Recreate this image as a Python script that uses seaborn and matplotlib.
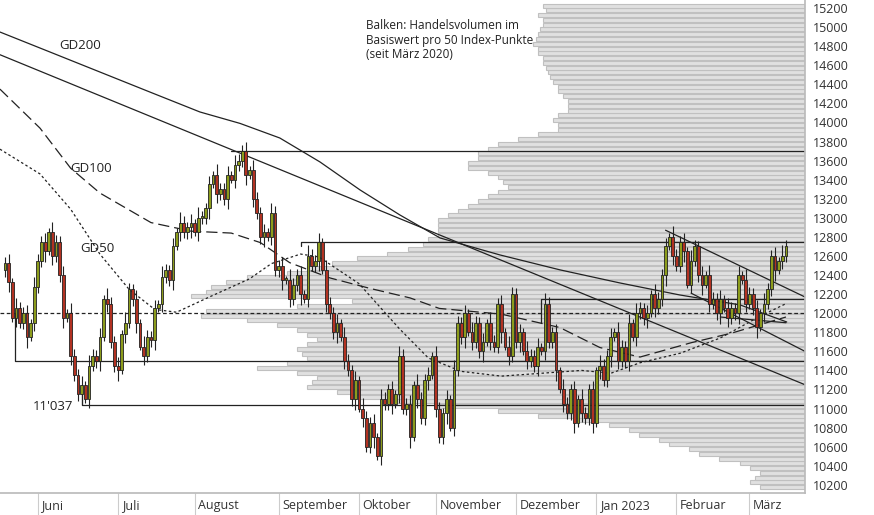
import numpy as np
import pandas as pd
import matplotlib
matplotlib.use("Agg")
import matplotlib.pyplot as plt
import matplotlib.transforms as mtrans
import seaborn as sns

sns.set_theme(style="white")
plt.rcParams['font.family'] = ['Open Sans', 'DejaVu Sans']

closes = [12530,12330,11950,12050,11900,12000,11750,11900,12270,
 12550,12750,12650,12850,12600,12750,12400,11950,12000,11550,11350,11150,11250,11100,11450,11550,11500,11750,12150,12100,11700,11450,11400,
 11780,11900,12250,12150,11900,11650,11550,11750,11720,12050,12100,12380,12450,12350,12700,12850,12950,12850,12900,12950,12850,
 13000,13000,13100,13350,13450,13250,13300,13200,13450,13400,13550,13600,13700,13450,13500,13200,13050,12800,12850,12800,13050,12450,
 12500,12350,12350,12150,12300,12400,12200,12150,12600,12500,12550,12750,12450,12100,12000,11800,11900,11750,11500,11400,11100,
 11300,11000,10900,10600,10850,10700,10500,11100,11050,11200,11050,11150,11550,11000,11050,10700,11250,11100,10900,11300,11350,11550,
 11000,10700,10950,11100,10800,11400,11900,11750,12000,11800,11700,11900,11600,11700,11900,11700,11650,12100,11800,11650,11550,
 12200,11700,11800,11600,11500,11550,11450,11650,11600,12100,11700,11800,11400,11200,11050,10950,11200,10850,11100,10950,10900,
 11200,10850,11400,11450,11300,11550,11750,11800,11500,11650,11500,11900,11750,12000,12050,11950,12000,12200,12050,12150,12400,
 12700,12800,12600,12500,12750,12650,12300,12550,12700,12400,12300,12400,12100,12150,12000,12150,12050,11950,
 12050,12000,12400,12350,12100,12200,12050,11850,12000,12100,12250,12600,12450,12550,12600,12700]
opens = [12450] + closes[:-1]
wick = [60, 90, 40, 110, 70] * 44
wick = wick[:len(closes)]
highs = [max(o, c) + w for o, c, w in zip(opens, closes, wick)]
lows = [min(o, c) - w for o, c, w in zip(opens, closes, wick[::-1])]
dates = pd.bdate_range("2022-05-19", periods=len(closes))

# moving averages (index, value)
gd200_i = [-1.37, 12.3, 26.0, 39.7, 53.4, 64.4, 75.3, 86.3, 97.3, 108.2, 119.2, 135.6, 152.1, 168.5, 184.9, 201.4, 214.2]
gd200_v = [14948, 14739, 14529, 14319, 14110, 13990, 13837, 13586, 13292, 13030, 12789, 12611, 12454, 12317, 12191, 12087, 11908]
gd100_i = [-1.4, 9.6, 18, 26, 40, 51, 62, 70, 78, 89, 100, 111, 119, 136, 152, 163, 174, 188, 199, 214]
gd100_v = [14350, 13940, 13520, 13260, 12950, 12860, 12840, 12740, 12530, 12370, 12260, 12160, 12050, 11990, 11850, 11640, 11540, 11690, 11790, 11960]
gd50_i = [-1.4, 9.6, 18, 26, 34, 41, 47, 56, 67, 73, 81, 86, 97, 108, 116, 125, 136, 147, 158, 166, 174, 185, 196, 207, 214]
gd50_v = [13720, 13460, 13090, 12620, 12250, 12040, 12010, 12170, 12360, 12520, 12620, 12590, 12310, 11840, 11530, 11390, 11340, 11370, 11400, 11370, 11480, 11580, 11740, 11970, 12100]

price_levels = np.arange(10150, 15250, 50)
left_edge = {15200:545,15150:548,15100:540,15050:545,15000:545,14950:542,14900:540,14850:538,14800:535,14750:540,14700:540,14650:545,
 14600:545,14550:548,14500:550,14450:552,14400:555,14350:560,14300:560,14250:565,14200:570,14150:570,14100:570,14050:560,14000:555,
 13950:560,13900:560,13850:540,13800:520,13750:500,13700:490,13650:480,13600:480,13550:470,13500:470,13450:490,13400:500,13350:505,
 13300:510,13250:500,13200:490,13150:480,13100:470,13050:460,13000:450,12950:440,12900:440,12850:440,12800:440,12750:430,12700:425,
 12650:410,12600:390,12550:360,12500:335,12450:310,12400:290,12350:250,12300:230,12250:215,12200:210,12150:195,12100:355,12050:300,
 12000:210,11950:205,11900:250,11850:280,11800:300,11750:310,11700:320,11650:310,11600:300,11550:305,11500:310,11450:290,11400:260,
 11350:300,11300:320,11250:315,11200:310,11150:340,11100:355,11050:400,11000:440,10950:500,10900:540,10850:580,10800:610,10750:630,
 10700:640,10650:660,10600:670,10550:690,10500:700,10450:720,10400:740,10350:750,10300:760,10250:755,10200:750,10150:760}
volume = [805 - left_edge[int(p)] for p in price_levels]

fig = plt.figure(figsize=(8.74, 5.15), dpi=100)
ax = fig.add_axes([0.0, 0.043, 0.921, 0.957])
ax.set_ylim(10116, 15284)
ax.set_xlim(-1.37, 219.2)

axv = ax.twiny()
axv.set_xlim(800, 0)
axv.barh(price_levels + 25, volume, height=42, color="#e0e0e0", edgecolor="#c0c0c0", linewidth=0.8, zorder=0)
axv.set_xticks([])
for s in axv.spines.values():
    s.set_visible(False)
ax.set_zorder(axv.get_zorder() + 1)
ax.patch.set_visible(False)

ax.plot(gd200_i, gd200_v, color="#222222", lw=0.9)
sns.lineplot(x=gd100_i, y=gd100_v, ax=ax, color="#222222", lw=0.9, linestyle=(0, (9, 4)))
sns.lineplot(x=gd50_i, y=gd50_v, ax=ax, color="#222222", lw=0.9, linestyle=(0, (2, 2)))
ax.plot([-1.37, 219.2], [14710, 11250], color="#222222", lw=0.9)
ax.plot([181, 219.2], [12870, 12170], color="#222222", lw=0.9)
ax.plot([188, 219.2], [12210, 11600], color="#222222", lw=0.9)
ax.plot([196, 214], [11960, 11900], color="#222222", lw=0.9)
ax.plot([62, 219.2], [13700, 13700], color="#222222", lw=0.9)
ax.plot([81, 81, 219.2], [12700, 12750, 12750], color="#222222", lw=0.9)
ax.plot([147, 147, 219.2], [11900, 12150, 12150], color="#222222", lw=0.9)
ax.plot([-1.37, 219.2], [12000, 12000], color="#222222", lw=0.9, linestyle=(0, (3, 2)))
ax.plot([2.7, 2.7, 219.2], [12000, 11500, 11500], color="#222222", lw=0.9)
ax.plot([21, 21, 219.2], [11150, 11037, 11037], color="#222222", lw=0.9)

for i, (o, h, l, c) in enumerate(zip(opens, highs, lows, closes)):
    col = "#8c9c1c" if c >= o else "#b23222"
    ax.vlines(i, l, h, color="#222222", lw=0.8, zorder=3)
    ax.bar(i, max(abs(c - o), 15), bottom=min(o, c), width=0.75, color=col, edgecolor="#222222", linewidth=0.6, zorder=4)

ax.text(366.0 / 805 * 220.6 - 1.37, 15080, "Balken: Handelsvolumen im\nBasiswert pro 50 Index-Punkte\n(seit März 2020)",
        fontsize=8.5, va="top", ha="left", color="#222222", linespacing=1.15)
ax.text(15, 14770, "GD200", fontsize=9.5, color="#222222")
ax.text(18, 13480, "GD100", fontsize=9.5, color="#222222")
ax.text(20.5, 12640, "GD50", fontsize=9.5, color="#222222")
ax.text(7.5, 10990, "11'037", fontsize=9.5, color="#222222")

ax.yaxis.tick_right()
yt = np.arange(10200, 15201, 200)
ax.set_yticks(yt)
ax.set_yticklabels([str(v) for v in yt], fontsize=9, color="#333333")
ax.tick_params(axis="y", length=0, pad=6)
month_names = ["Juni", "Juli", "August", "September", "Oktober", "November", "Dezember", "Jan 2023", "Februar", "März"]
starts = []
for m in pd.period_range("2022-06", "2023-03", freq="M"):
    starts.append(int(np.argmax(dates >= m.start_time)))
ax.set_xticks(starts)
ax.set_xticklabels([])
ax.tick_params(axis="x", length=20, color="#cccccc", width=0.8, direction="out", bottom=True)
trans = mtrans.blended_transform_factory(ax.transData, ax.transAxes)
for s, name in zip(starts, month_names):
    ax.text(s + 1.0, -0.012, name, transform=trans, fontsize=9, va="top", ha="left", color="#333333")
for k in ["top", "left"]:
    ax.spines[k].set_visible(False)
ax.spines["bottom"].set_color("#bbbbbb")
ax.spines["right"].set_color("#bbbbbb")
ax.set_xlabel("")
ax.set_ylabel("")

fig.savefig("out.png", dpi=100)
